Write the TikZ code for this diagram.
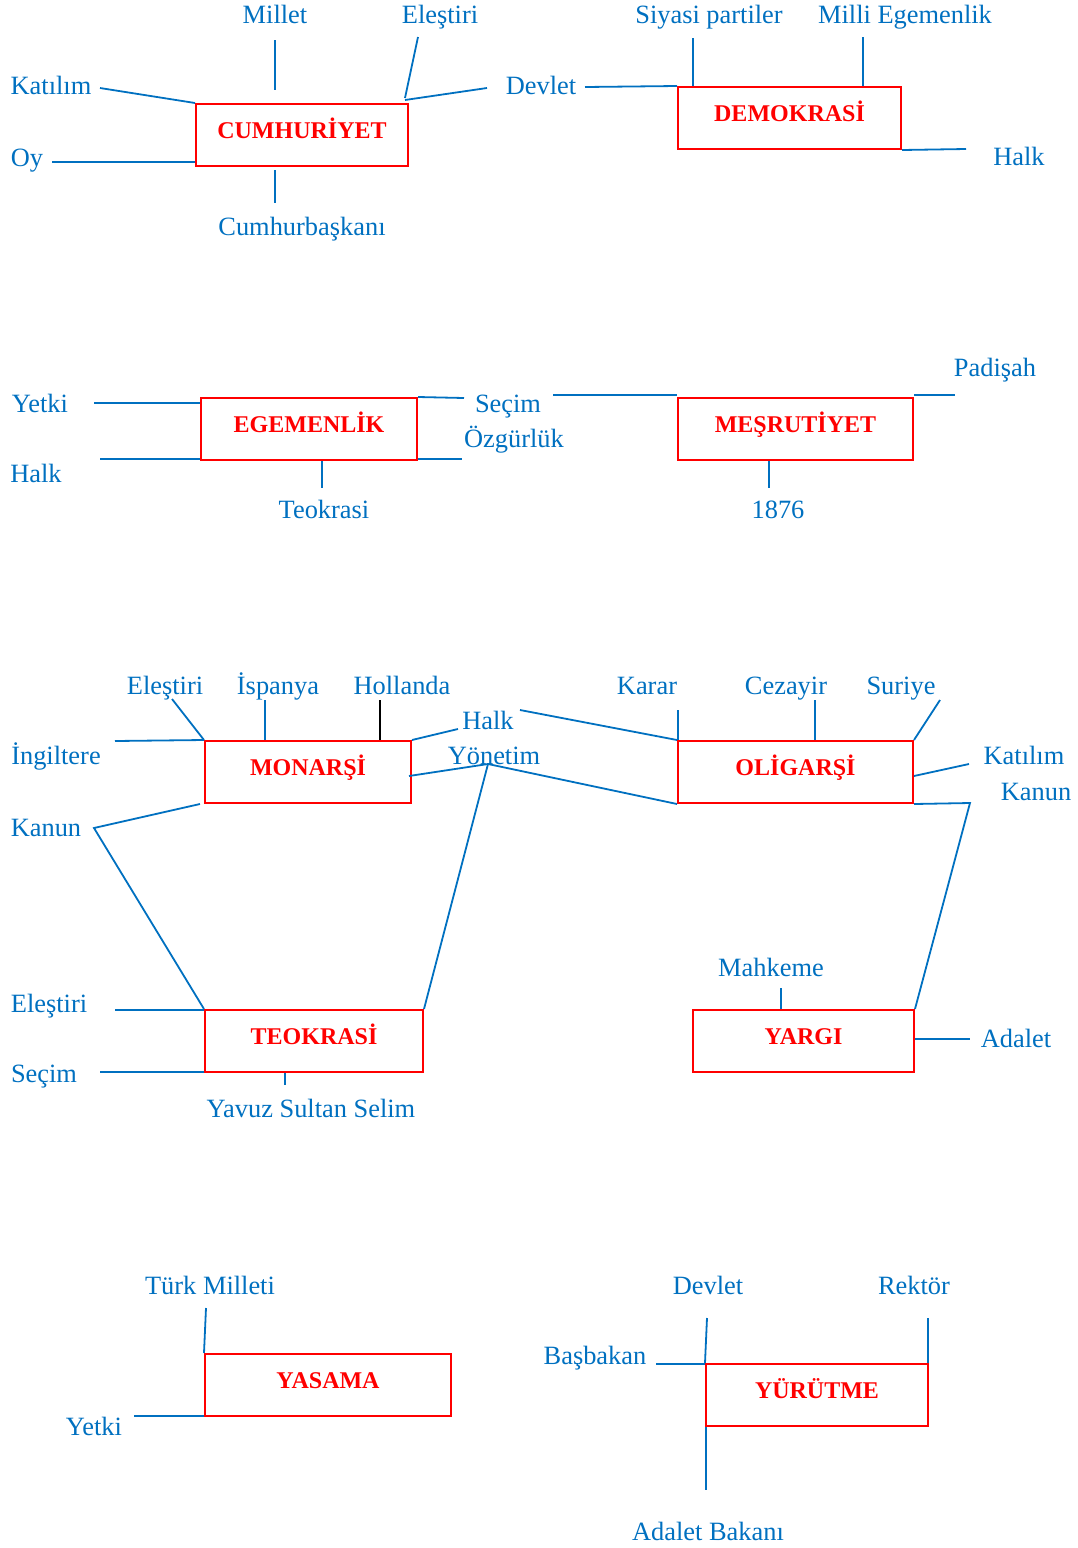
\documentclass[tikz,border=0pt]{standalone}
\usepackage{fontspec}
\setmainfont{Liberation Serif}
\definecolor{lblue}{RGB}{0,112,192}
\definecolor{bred}{RGB}{255,0,0}
\begin{document}
\begin{tikzpicture}[x=1pt,y=-1pt,
  box/.style={draw=bred,line width=2pt,text=bred,inner sep=0pt,
    font=\bfseries\fontsize{24}{28}\selectfont,minimum height=62pt,
    text height=16pt,text depth=10pt},
  lbl/.style={text=lblue,inner sep=0pt,anchor=base,font=\fontsize{26.4}{30}\selectfont},
  conn/.style={draw=lblue,line width=1.8pt},
  bconn/.style={draw=black,line width=1.8pt}]
\useasboundingbox (0,0) rectangle (1078,1548);

% ---------- boxes ----------
\node[box,minimum width=212pt] (cum) at (302,135) {CUMHURİYET};
\node[box,minimum width=223pt] (dem) at (789.5,118) {DEMOKRASİ};
\node[box,minimum width=216pt] (ege) at (309,429) {EGEMENLİK};
\node[box,minimum width=235pt] (mes) at (795.5,429) {MEŞRUTİYET};
\node[box,minimum width=206pt] (mon) at (308,772) {MONARŞİ};
\node[box,minimum width=235pt] (oli) at (795.5,772) {OLİGARŞİ};
\node[box,minimum width=218pt] (teo) at (314,1041) {TEOKRASİ};
\node[box,minimum width=221pt] (yar) at (803.5,1041) {YARGI};
\node[box,minimum width=246pt] (yas) at (328,1385) {YASAMA};
\node[box,minimum width=222pt] (yur) at (817,1395) {YÜRÜTME};

% ---------- labels ----------
\node[lbl] (l-millet) at (275,23) {Millet};
\node[lbl] (l-elestiri1) at (440,23) {Eleştiri};
\node[lbl] (l-katilim1) at (51,94) {Katılım};
\node[lbl] (l-oy) at (27,166) {Oy};
\node[lbl] (l-cbaskan) at (302,235) {Cumhurbaşkanı};
\node[lbl] (l-devlet1) at (541,94) {Devlet};
\node[lbl] (l-siyasi) at (709,23) {Siyasi partiler};
\node[lbl] (l-milli) at (905,23) {Milli Egemenlik};
\node[lbl] (l-halk1) at (1019,165) {Halk};

\node[lbl] (l-yetki1) at (40,412) {Yetki};
\node[lbl] (l-halk2) at (36,482) {Halk};
\node[lbl] (l-teokrasi) at (324,518) {Teokrasi};
\node[lbl] (l-secim1) at (508,412) {Seçim};
\node[lbl] (l-ozgurluk) at (514,447) {Özgürlük};
\node[lbl] (l-padisah) at (995,376) {Padişah};
\node[lbl] (l-1876) at (778,518) {1876};

\node[lbl] (l-elestiri2) at (165,694) {Eleştiri};
\node[lbl] (l-ispanya) at (278,694) {İspanya};
\node[lbl] (l-hollanda) at (402,694) {Hollanda};
\node[lbl] (l-ingiltere) at (56,764) {İngiltere};
\node[lbl] (l-halk3) at (488,729) {Halk};
\node[lbl] (l-yonetim) at (494,764) {Yönetim};
\node[lbl] (l-kanun1) at (46,836) {Kanun};
\node[lbl] (l-karar) at (647,694) {Karar};
\node[lbl] (l-cezayir) at (786,694) {Cezayir};
\node[lbl] (l-suriye) at (901,694) {Suriye};
\node[lbl] (l-katilim2) at (1024,764) {Katılım};
\node[lbl] (l-kanun2) at (1036,800) {Kanun};

\node[lbl] (l-elestiri3) at (49,1012) {Eleştiri};
\node[lbl] (l-secim2) at (44,1082) {Seçim};
\node[lbl] (l-yavuz) at (311,1117) {Yavuz Sultan Selim};
\node[lbl] (l-mahkeme) at (771,976) {Mahkeme};
\node[lbl] (l-adalet) at (1016,1047) {Adalet};

\node[lbl] (l-turk) at (210,1294) {Türk Milleti};
\node[lbl] (l-yetki2) at (94,1435) {Yetki};
\node[lbl] (l-devlet2) at (708,1294) {Devlet};
\node[lbl] (l-rektor) at (914,1294) {Rektör};
\node[lbl] (l-basbakan) at (595,1364) {Başbakan};
\node[lbl] (l-adaletb) at (708,1540) {Adalet Bakanı};

% ---------- free ends ----------
\coordinate (c-m1) at (275,40);  \coordinate (c-m2) at (275,90);
\coordinate (c-e1) at (418,37);  \coordinate (c-e2) at (405,98);
\coordinate (c-k) at (100,88);
\coordinate (c-d1) at (405,100); \coordinate (c-d2) at (487,88);
\coordinate (c-oy) at (52,162);
\coordinate (c-cb1) at (275,170); \coordinate (c-cb2) at (275,203);

\coordinate (d-dev) at (585,87);
\coordinate (d-sp) at (693,38);
\coordinate (d-me) at (863,37);
\coordinate (d-halk) at (966,149);

\coordinate (e-yetki) at (94,403);
\coordinate (e-halk) at (100,459);
\coordinate (e-teo) at (322,488);
\coordinate (e-r1) at (464,398);
\coordinate (e-r2) at (462,459);

\coordinate (m-l) at (553,395);
\coordinate (m-pad) at (955,395);
\coordinate (m-1876) at (769,488);

\coordinate (mo-ing) at (115,741);
\coordinate (mo-el) at (172,699);
\coordinate (mo-isp) at (265,700);
\coordinate (mo-hol) at (380,700);
\coordinate (mo-halk) at (458,729);
\coordinate (mo-y) at (409,776);
\coordinate (J) at (488,764);
\coordinate (mo-k0) at (200,804);
\coordinate (mo-kanun) at (94,828);

\coordinate (o-halk) at (520,710);
\coordinate (o-karar) at (678,710);
\coordinate (o-cez) at (815,700);
\coordinate (o-sur) at (940,700);
\coordinate (o-k1) at (914,776); \coordinate (o-k2) at (969,764);
\coordinate (o-kanun) at (970,803);

\coordinate (t-el) at (115,1010);
\coordinate (t-sec) at (100,1072);
\coordinate (t-yav) at (285,1085);

\coordinate (y-mah) at (781,988);
\coordinate (y-ad) at (970,1039);

\coordinate (ya-turk) at (206,1308);
\coordinate (ya-yetki) at (134,1416);

\coordinate (yu-dev) at (707,1318);
\coordinate (yu-rek) at (928,1318);
\coordinate (yu-bas) at (656,1364);
\coordinate (yu-ab) at (706,1490);

% ---------- connectors ----------
% Cumhuriyet
\draw[conn] (c-m1) -- (c-m2);
\draw[conn] (c-e1) -- (c-e2);
\draw[conn] (c-k) -- (cum.north west);
\draw[conn] (c-d1) -- (c-d2);
\draw[conn] (c-oy) -- (c-oy -| cum.west);
\draw[conn] (c-cb1) -- (c-cb2);
% Demokrasi
\draw[conn] (d-dev) -- (dem.north west);
\draw[conn] (d-sp) -- (d-sp |- dem.north);
\draw[conn] (d-me) -- (d-me |- dem.north);
\draw[conn] (dem.south east) -- (d-halk);
% Egemenlik
\draw[conn] (e-yetki) -- (e-yetki -| ege.west);
\draw[conn] (e-halk) -- (e-halk -| ege.west);
\draw[conn] (e-teo |- ege.south) -- (e-teo);
\draw[conn] (ege.north east) -- (e-r1);
\draw[conn] (e-r2 -| ege.east) -- (e-r2);
% Mesrutiyet
\draw[conn] (m-l) -- (m-l -| mes.west);
\draw[conn] (m-pad -| mes.east) -- (m-pad);
\draw[conn] (m-1876 |- mes.south) -- (m-1876);
% Monarsi
\draw[conn] (mo-ing) -- (mon.north west);
\draw[conn] (mo-el) -- (mon.north west);
\draw[conn] (mo-isp) -- (mo-isp |- mon.north);
\draw[bconn] (mo-hol) -- (mo-hol |- mon.north);
\draw[conn] (mon.north east) -- (mo-halk);
\draw[conn] (mo-y) -- (J);
\draw[conn] (J) -- (teo.north east);
\draw[conn] (J) -- (oli.south west);
\draw[conn] (mo-k0) -- (mo-kanun) -- (teo.north west);
% Oligarsi
\draw[conn] (o-halk) -- (oli.north west);
\draw[conn] (o-karar) -- (o-karar |- oli.north);
\draw[conn] (o-cez) -- (o-cez |- oli.north);
\draw[conn] (o-sur) -- (oli.north east);
\draw[conn] (o-k1) -- (o-k2);
\draw[conn] (oli.south east) -- (o-kanun) -- (yar.north east);
% Teokrasi
\draw[conn] (t-el) -- (t-el -| teo.west);
\draw[conn] (t-sec) -- (t-sec -| teo.west);
\draw[conn] (t-yav |- teo.south) -- (t-yav);
% Yargi
\draw[conn] (y-mah) -- (y-mah |- yar.north);
\draw[conn] (y-ad -| yar.east) -- (y-ad);
% Yasama
\draw[conn] (ya-turk) -- (yas.north west);
\draw[conn] (ya-yetki) -- (ya-yetki -| yas.west);
% Yurutme
\draw[conn] (yu-dev) -- (yur.north west);
\draw[conn] (yu-rek) -- (yu-rek |- yur.north);
\draw[conn] (yu-bas) -- (yu-bas -| yur.west);
\draw[conn] (yu-ab |- yur.south) -- (yu-ab);
\end{tikzpicture}
\end{document}
